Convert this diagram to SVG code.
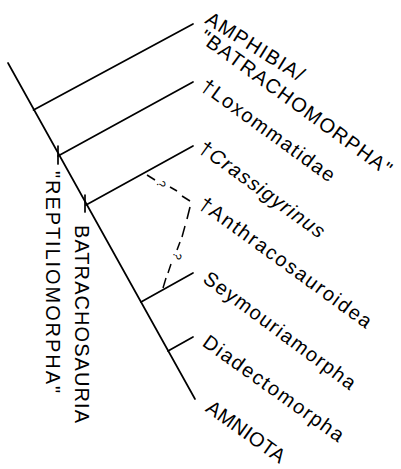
<svg xmlns="http://www.w3.org/2000/svg" width="401" height="469" viewBox="0 0 401 469">
<style>
.ln{stroke:#000;stroke-width:1.7;fill:none;stroke-linecap:round}
.dl{stroke:#000;stroke-width:1.5;fill:none}
.lb{font-family:"Liberation Sans",Arial,sans-serif;font-size:20px;fill:#000}
.vt{font-family:"Liberation Sans",Arial,sans-serif;font-size:20px;fill:#000}
.q{font-family:"Liberation Sans",Arial,sans-serif;font-size:12px;fill:#000}
</style>
<rect width="401" height="469" fill="#fff"/>
<g id="connectors">
<line class="ln" x1="8" y1="63" x2="195" y2="399"/>
<line class="ln" x1="33.5" y1="110" x2="193" y2="24"/>
<line class="ln" x1="58" y1="156" x2="193" y2="82"/>
<line class="ln" x1="58" y1="146" x2="58" y2="164"/>
<line class="ln" x1="86" y1="205" x2="193" y2="146"/>
<line class="ln" x1="85" y1="195" x2="85" y2="212"/>
<line class="ln" x1="141" y1="302" x2="193" y2="273"/>
<line class="ln" x1="168" y1="351" x2="193" y2="337"/>
<g id="dashed">
<line class="dl" x1="147" y1="175" x2="155" y2="180"/>
<line class="dl" x1="170" y1="187" x2="177" y2="191"/>
<line class="dl" x1="182" y1="196" x2="190" y2="201"/>
<line class="dl" x1="190" y1="207" x2="187" y2="219"/>
<line class="dl" x1="185" y1="226" x2="182" y2="237"/>
<line class="dl" x1="180" y1="242" x2="177" y2="250"/>
<line class="dl" x1="171" y1="264" x2="168" y2="273"/>
<line class="dl" x1="166" y1="278" x2="163" y2="288"/>
<text class="q" transform="translate(161,184) rotate(80)" text-anchor="middle" dy="4">?</text>
<text class="q" transform="translate(177,256) rotate(110)" text-anchor="middle" dy="4">?</text>
</g>
</g>
<g id="amphibia">
<text class="lb" transform="translate(204,22.5) rotate(32)" textLength="112" lengthAdjust="spacing">AMPHIBIA/</text>
<text class="lb" transform="translate(198,40) rotate(36)" textLength="232" lengthAdjust="spacing">"BATRACHOMORPHA"</text>
</g>
<g id="loxommatidae">
<text class="lb" transform="translate(199.5,88.8) rotate(36)" textLength="160" lengthAdjust="spacing">†Loxommatidae</text>
</g>
<g id="crassigyrinus">
<text class="lb" transform="translate(197.5,150.8) rotate(36)" textLength="150" lengthAdjust="spacing">†<tspan font-style="italic">Crassigyrinus</tspan></text>
</g>
<g id="anthracosauroidea">
<text class="lb" transform="translate(197.5,206.8) rotate(36)" textLength="208" lengthAdjust="spacing">†Anthracosauroidea</text>
</g>
<g id="seymouriamorpha">
<text class="lb" transform="translate(201.7,281.2) rotate(36.5)" textLength="184" lengthAdjust="spacing">Seymouriamorpha</text>
</g>
<g id="diadectomorpha">
<text class="lb" transform="translate(201.2,345.1) rotate(35.5)" textLength="168" lengthAdjust="spacing">Diadectomorpha</text>
</g>
<g id="amniota">
<text class="lb" transform="translate(204.5,410.5) rotate(35.5)" textLength="92" lengthAdjust="spacing">AMNIOTA</text>
</g>
<g id="batrachosauria">
<text class="vt" transform="translate(75,225) rotate(90)" textLength="198" lengthAdjust="spacing">BATRACHOSAURIA</text>
</g>
<g id="reptiliomorpha">
<text class="vt" transform="translate(46,171) rotate(90)" textLength="222" lengthAdjust="spacing">"REPTILIOMORPHA"</text>
</g>
</svg>
